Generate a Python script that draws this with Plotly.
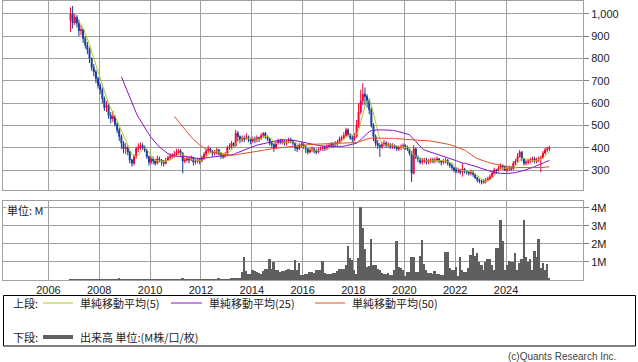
import pandas as pd
import plotly.graph_objects as go

# ---------------- data (monthly, Oct 2006 .. Aug 2025) ----------------
start_month = "2006-10-15"

opens = [
    970, 1000, 960,                                                   # 2006 Oct-Dec
    985, 960, 925, 930, 890, 860, 840, 800, 760, 740, 710, 680,       # 2007
    660, 620, 580, 590, 545, 530, 540, 505, 480, 450, 420, 395,       # 2008
    400, 380, 345, 330, 360, 395, 400, 410, 400, 390, 360, 335,       # 2009
    350, 340, 330, 350, 345, 335, 330, 345, 355, 360, 365, 370,       # 2010
    380, 385, 375, 340, 345, 350, 345, 355, 335, 340, 345, 340,       # 2011
    355, 370, 385, 395, 385, 375, 380, 390, 375, 365, 360, 370,       # 2012
    400, 405, 420, 410, 465, 450, 435, 445, 440, 450, 440, 430,       # 2013
    440, 435, 445, 440, 455, 465, 450, 440, 420, 415, 400, 420,       # 2014
    430, 425, 430, 420, 425, 435, 430, 420, 400, 395, 410, 415,       # 2015
    405, 395, 380, 390, 395, 385, 380, 390, 395, 400, 395, 405,       # 2016
    410, 415, 410, 420, 425, 440, 445, 455, 480, 460, 445, 440,       # 2017
    450, 500, 560, 610, 640, 630, 610, 570, 500, 450, 420, 410,       # 2018
    405, 415, 420, 410, 415, 405, 410, 405, 395, 400, 405, 410,       # 2019
    400, 395, 375, 285, 395, 355, 350, 335, 340, 345, 335, 340,       # 2020
    345, 340, 345, 350, 340, 335, 340, 345, 330, 320, 310, 300,       # 2021
    295, 300, 290, 305, 295, 290, 285, 290, 280, 265, 255, 250,       # 2022
    245, 250, 255, 260, 270, 285, 300, 295, 310, 320, 315, 300,       # 2023
    305, 310, 305, 330, 340, 360, 380, 350, 330, 335, 340, 345,       # 2024
    350, 340, 345, 350, 355, 375, 390, 395,                           # 2025 Jan-Aug
]
highs = [
    1030, 1036, 1000,
    995, 975, 950, 935, 900, 875, 850, 805, 775, 750, 720, 690,
    670, 630, 610, 600, 560, 565, 545, 515, 490, 460, 430, 420,
    410, 385, 350, 370, 405, 420, 425, 420, 410, 395, 365, 360,
    360, 350, 365, 360, 350, 345, 355, 365, 375, 375, 385, 395,
    395, 395, 380, 355, 360, 360, 365, 360, 350, 355, 355, 365,
    380, 395, 410, 400, 390, 390, 400, 395, 380, 375, 380, 410,
    420, 430, 425, 480, 475, 455, 455, 455, 465, 455, 445, 450,
    450, 455, 450, 465, 470, 470, 455, 445, 430, 420, 430, 440,
    440, 440, 435, 435, 445, 445, 435, 425, 410, 420, 425, 420,
    410, 400, 400, 405, 400, 395, 400, 405, 410, 410, 415, 420,
    425, 425, 430, 435, 450, 455, 470, 490, 488, 465, 455, 465,
    525, 600, 660, 690, 670, 640, 620, 580, 510, 460, 435, 420,
    425, 435, 430, 425, 420, 420, 415, 410, 410, 415, 420, 415,
    410, 400, 385, 412, 400, 365, 355, 350, 355, 355, 350, 355,
    355, 355, 360, 355, 345, 350, 355, 350, 335, 330, 315, 310,
    310, 305, 330, 310, 300, 295, 300, 295, 285, 270, 262, 258,
    260, 265, 270, 280, 295, 310, 305, 320, 330, 325, 320, 315,
    320, 318, 340, 350, 375, 390, 385, 355, 345, 350, 355, 360,
    360, 355, 360, 365, 385, 400, 405, 408,
]
lows = [
    920, 935, 950,
    940, 900, 905, 870, 845, 820, 780, 745, 720, 690, 665, 640,
    600, 565, 560, 530, 510, 515, 495, 465, 430, 395, 375, 370,
    365, 330, 315, 320, 350, 380, 390, 390, 380, 350, 320, 325,
    325, 320, 325, 335, 320, 315, 325, 340, 345, 350, 355, 360,
    370, 365, 285, 330, 335, 330, 340, 320, 325, 330, 325, 335,
    345, 360, 375, 375, 360, 365, 370, 365, 350, 350, 355, 365,
    390, 395, 400, 405, 430, 420, 425, 425, 435, 425, 415, 420,
    420, 425, 425, 435, 445, 440, 430, 410, 400, 382, 395, 415,
    415, 415, 410, 410, 420, 420, 410, 385, 381, 390, 400, 395,
    376, 370, 375, 380, 375, 370, 375, 385, 385, 385, 390, 395,
    400, 400, 405, 410, 420, 430, 435, 450, 450, 435, 425, 430,
    445, 490, 550, 590, 590, 580, 550, 490, 430, 405, 395, 358,
    395, 405, 400, 400, 395, 395, 395, 385, 385, 390, 395, 390,
    385, 365, 246, 280, 350, 335, 325, 325, 330, 325, 325, 330,
    330, 330, 335, 330, 320, 325, 330, 320, 310, 300, 290, 285,
    285, 280, 270, 285, 280, 275, 275, 270, 260, 245, 240, 235,
    238, 240, 248, 255, 265, 280, 285, 290, 305, 300, 295, 290,
    295, 295, 300, 320, 335, 355, 340, 320, 320, 325, 330, 335,
    330, 330, 335, 291, 350, 370, 380, 385,
]
closes = [
    1000, 960, 985,
    960, 925, 930, 890, 860, 840, 800, 760, 740, 710, 680, 660,
    620, 580, 590, 545, 530, 540, 505, 480, 450, 420, 395, 400,
    380, 345, 330, 360, 395, 400, 410, 400, 390, 360, 335, 350,
    340, 330, 350, 345, 335, 330, 345, 355, 360, 365, 370, 380,
    385, 375, 340, 345, 350, 345, 355, 335, 340, 345, 340, 355,
    370, 385, 395, 385, 375, 380, 390, 375, 365, 360, 370, 400,
    405, 420, 410, 465, 450, 435, 445, 440, 450, 440, 430, 440,
    435, 445, 440, 455, 465, 450, 440, 420, 415, 400, 420, 430,
    425, 430, 420, 425, 435, 430, 420, 400, 395, 410, 415, 405,
    395, 380, 390, 395, 385, 380, 390, 395, 400, 395, 405, 410,
    415, 410, 420, 425, 440, 445, 455, 480, 460, 445, 440, 450,
    500, 560, 610, 640, 630, 610, 570, 500, 450, 420, 410, 405,
    415, 420, 410, 415, 405, 410, 405, 395, 400, 405, 410, 400,
    395, 375, 285, 395, 355, 350, 335, 340, 345, 335, 340, 345,
    340, 345, 350, 340, 335, 340, 345, 330, 320, 310, 300, 295,
    300, 290, 305, 295, 290, 285, 290, 280, 265, 255, 250, 245,
    250, 255, 260, 270, 285, 300, 295, 310, 320, 315, 300, 305,
    310, 305, 330, 340, 360, 380, 350, 330, 335, 340, 345, 350,
    340, 345, 350, 355, 375, 390, 395, 400,
]
volume_m = [
    0.02, 0.02, 0.02,
    0.02, 0.02, 0.03, 0.02, 0.02, 0.02, 0.02, 0.03, 0.02, 0.02, 0.02, 0.02,
    0.02, 0.03, 0.02, 0.02, 0.02, 0.02, 0.03, 0.02, 0.06, 0.03, 0.02, 0.02,
    0.02, 0.02, 0.03, 0.02, 0.02, 0.02, 0.02, 0.02, 0.02, 0.02, 0.05, 0.02,
    0.02, 0.02, 0.02, 0.03, 0.02, 0.02, 0.02, 0.02, 0.02, 0.03, 0.02, 0.02,
    0.02, 0.03, 0.06, 0.02, 0.02, 0.02, 0.03, 0.05, 0.02, 0.02, 0.02, 0.02,
    0.02, 0.02, 0.03, 0.02, 0.02, 0.02, 0.03, 0.06, 0.02, 0.02, 0.03, 0.02,
    0.03, 0.06, 0.07, 0.06, 0.10, 0.12, 0.46, 1.26, 0.50, 0.33, 0.33, 0.55,
    0.50, 0.45, 0.40, 0.33, 0.50, 0.61, 0.60, 1.17, 0.60, 1.00, 0.55, 0.55,
    0.44, 0.50, 0.50, 0.55, 0.61, 0.55, 0.55, 1.10, 0.55, 0.96, 0.30, 0.28,
    0.33, 0.33, 0.46, 0.46, 0.37, 0.55, 0.55, 0.55, 1.05, 0.40, 0.35, 0.33,
    0.33, 0.37, 0.37, 0.52, 0.60, 0.60, 0.60, 0.83, 1.90, 1.20, 1.10, 0.55,
    0.33, 1.24, 4.04, 2.87, 1.72, 0.70, 0.80, 2.28, 0.83, 0.83, 0.60, 0.55,
    0.37, 0.33, 0.33, 0.40, 0.28, 0.28, 0.55, 2.13, 0.74, 0.65, 0.55, 0.20,
    0.46, 0.46, 1.30, 1.30, 0.46, 0.46, 1.33, 2.19, 0.89, 0.55, 0.40, 0.40,
    0.33, 0.52, 0.33, 0.33, 0.28, 0.28, 1.54, 1.54, 0.65, 0.55, 0.55, 0.74,
    0.22, 1.30, 0.55, 0.46, 0.46, 0.65, 1.39, 1.76, 1.33, 1.52, 1.02, 0.83,
    0.55, 1.02, 1.15, 1.15, 0.83, 0.55, 1.76, 1.76, 3.30, 2.17, 0.55, 0.83,
    1.06, 1.02, 1.02, 1.52, 0.55, 0.93, 1.17, 3.33, 1.30, 1.02, 1.15, 0.55,
    1.61, 1.30, 2.26, 0.65, 0.93, 0.55, 0.87, 0.10,
]
ma_periods = [5, 25, 50]
ma_labels = ["単純移動平均(5)", "単純移動平均(25)", "単純移動平均(50)"]
year_ticks = ["2006", "2008", "2010", "2012", "2014", "2016", "2018", "2020", "2022", "2024"]
price_ticks = [300, 400, 500, 600, 700, 800, 900, 1000]
vol_ticks = [1, 2, 3, 4]
vol_tick_text = ["1M", "2M", "3M", "4M"]

# ---------------- build ----------------
dates = pd.date_range(start_month, periods=len(closes), freq="MS") + pd.Timedelta(days=14)
close_s = pd.Series(closes, index=dates)
year_tick_dates = [y + "-01-01" for y in year_ticks]

ma_colors = ["#b4c81e", "#8a10c8", "#e0501e"]
UP = "#f0003c"
DOWN = "#143c96"
GRID = "#a0a0a0"
FONT = "Liberation Sans, Arial, sans-serif"
JFONT = "Noto Sans CJK JP, sans-serif"

fig = go.Figure()
fig.add_trace(go.Candlestick(
    x=dates, open=opens, high=highs, low=lows, close=closes,
    increasing=dict(line=dict(color=UP, width=1), fillcolor=UP),
    decreasing=dict(line=dict(color=DOWN, width=1), fillcolor=DOWN),
    whiskerwidth=0, xaxis="x", yaxis="y", showlegend=False, hoverinfo="skip",
))
for p, col in zip(ma_periods, ma_colors):
    ma = close_s.rolling(p).mean()
    fig.add_trace(go.Scatter(x=dates, y=ma.values, mode="lines",
                             line=dict(color=col, width=1), xaxis="x", yaxis="y",
                             showlegend=False, hoverinfo="skip"))
fig.add_trace(go.Bar(x=dates, y=volume_m, marker=dict(color="#5f5f5f", line=dict(width=0)),
                     xaxis="x2", yaxis="y2", showlegend=False, hoverinfo="skip"))

L, R, T, B = 3, 583, 1, 280
W, H = 638, 362
def PX(px):
    return (px - L) / (R - L)
def PY(py):
    return (B - py) / (B - T)

xr = ["2004-03-20", "2027-01-11"]
xcommon = dict(type="date", range=xr, tickmode="array", tickvals=year_tick_dates,
               ticktext=year_ticks,
               showgrid=True, gridcolor=GRID, gridwidth=1,
               showline=True, linecolor=GRID, linewidth=1, mirror=True,
               zeroline=False, ticks="")
fig.update_layout(
    width=W, height=H,
    margin=dict(l=L, r=W - R, t=T, b=H - B),
    paper_bgcolor="white", plot_bgcolor="white",
    bargap=0, showlegend=False,
    xaxis=dict(**xcommon, domain=[0, 1], anchor="y", showticklabels=False,
               rangeslider=dict(visible=False)),
    xaxis2=dict(**xcommon, domain=[0, 1], anchor="y2", matches="x",
                tickfont=dict(family=FONT, size=11, color="#222")),
    yaxis=dict(domain=[PY(190), 1], range=[210.3, 1058.3], side="right",
               tickmode="array", tickvals=price_ticks,
               ticktext=[f"{v:,}" for v in price_ticks], showgrid=True, gridcolor=GRID,
               showline=True, linecolor=GRID, mirror=True, zeroline=False,
               ticks="outside", ticklen=5, tickcolor="#808080",
               tickfont=dict(family=FONT, size=11, color="#222"), anchor="x"),
    yaxis2=dict(domain=[0, PY(201)], range=[0, 4.37], side="right",
                tickmode="array", tickvals=vol_ticks, ticktext=vol_tick_text,
                showgrid=True, gridcolor=GRID,
                showline=True, linecolor=GRID, mirror=True, zeroline=False,
                ticks="outside", ticklen=5, tickcolor="#808080",
                tickfont=dict(family=FONT, size=11, color="#222"), anchor="x2"),
)

shapes = []
annotations = []
# unit label in volume panel
annotations.append(dict(x=PX(6), y=PY(210), xref="paper", yref="paper", text="単位: M",
                        showarrow=False, xanchor="left", yanchor="middle",
                        font=dict(family=JFONT, size=11, color="#222"),
                        bgcolor="white", borderpad=0))
# legend box
shapes.append(dict(type="rect", xref="paper", yref="paper", x0=PX(3.5), x1=PX(635.5),
                   y0=PY(295.5), y1=PY(346), line=dict(color="#000", width=1)))
annotations.append(dict(x=PX(11), y=PY(303), xref="paper", yref="paper", text="上段:",
                        showarrow=False, xanchor="left", yanchor="middle",
                        font=dict(family=JFONT, size=11, color="#222")))
annotations.append(dict(x=PX(11), y=PY(337), xref="paper", yref="paper", text="下段:",
                        showarrow=False, xanchor="left", yanchor="middle",
                        font=dict(family=JFONT, size=11, color="#222")))
leg_x = [(43, 73, 78), (171, 202, 207), (315, 345, 350)]
for (x0, x1, tx), col, lab in zip(leg_x, ma_colors, ma_labels):
    shapes.append(dict(type="line", xref="paper", yref="paper", x0=PX(x0), x1=PX(x1),
                       y0=PY(303), y1=PY(303), line=dict(color=col, width=1)))
    annotations.append(dict(x=PX(tx), y=PY(303), xref="paper", yref="paper", text=lab,
                            showarrow=False, xanchor="left", yanchor="middle",
                            font=dict(family=JFONT, size=11, color="#222")))
shapes.append(dict(type="line", xref="paper", yref="paper", x0=PX(43), x1=PX(73),
                   y0=PY(337), y1=PY(337), line=dict(color="#606060", width=4)))
annotations.append(dict(x=PX(78), y=PY(337), xref="paper", yref="paper",
                        text="出来高 単位:(M株/口/枚)",
                        showarrow=False, xanchor="left", yanchor="middle",
                        font=dict(family=JFONT, size=11, color="#222")))
annotations.append(dict(x=PX(618), y=PY(356), xref="paper", yref="paper",
                        text="(c)Quants Research Inc.",
                        showarrow=False, xanchor="right", yanchor="middle",
                        font=dict(family=FONT, size=10, color="#444")))
fig.update_layout(shapes=shapes, annotations=annotations)

fig.write_html("out.html")
